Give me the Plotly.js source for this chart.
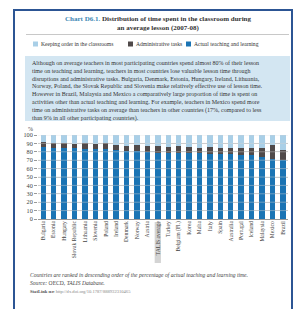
<!DOCTYPE html>
<html>
<head>
<meta charset="utf-8">
<script src="https://cdn.plot.ly/plotly-3.0.1.min.js"></script>
<style>
html,body{margin:0;padding:0;background:#fff;}
#chart{width:300px;height:309px;}
</style>
</head>
<body>
<div id="chart"></div>
<script>
// ---- data ----
var countries = ["Bulgaria","Estonia","Hungary","Slovak Republic","Lithuania","Slovenia","Poland","Ireland","Denmark","Norway","Austria","TALIS average","Turkey","Belgium (Fl.)","Korea","Malta","Italy","Spain","Australia","Portugal","Iceland","Malaysia","Mexico","Brazil"];
var actualTeaching = [86,85,84,84,83,83,83,82,81,81,80,79,79,79,78,78,77,77,77,76,76,74,71,70];
var adminTasks     = [6,5,6,5,7,6,7,6,6,7,7,8,7,8,8,7,9,8,7,8,8,10,17,12];
var keepingOrder   = [8,10,10,11,10,11,10,12,13,12,13,13,14,13,14,15,14,15,16,16,16,16,12,18];
var yTicks = [0,10,20,30,40,50,60,70,80,90,100];

var seriesNames = ["Actual teaching and learning","Administrative tasks","Keeping order in the classrooms"];
var seriesColors = ['#1b74b4','#504a4a','#a9cfe7'];

// ---- geometry helpers (pixel -> paper) ----
var L = 38, R = 288, T = 135, B = 219;
function px(x){ return (x - L) / (R - L); }
function py(y){ return (B - y) / (B - T); }

var serif = "Liberation Serif, DejaVu Serif, serif";

var traces = [
  {type:'bar', name:seriesNames[0], x:countries, y:actualTeaching, marker:{color:seriesColors[0]}, hoverinfo:'skip'},
  {type:'bar', name:seriesNames[1], x:countries, y:adminTasks, marker:{color:seriesColors[1]}, hoverinfo:'skip'},
  {type:'bar', name:seriesNames[2], x:countries, y:keepingOrder, marker:{color:seriesColors[2]}, hoverinfo:'skip'}
];

var shapes = [
  // frame
  {type:'rect', xref:'paper', yref:'paper', x0:px(14), x1:px(292), y0:py(320), y1:py(10), line:{color:'#2c5594', width:2}, fillcolor:'rgba(0,0,0,0)', layer:'below'},
  // title separator
  {type:'line', xref:'paper', yref:'paper', x0:px(26), x1:px(289), y0:py(34.5), y1:py(34.5), line:{color:'#c8c8c8', width:1}},
  // text box
  {type:'rect', xref:'paper', yref:'paper', x0:px(25), x1:px(290), y0:py(121), y1:py(56), line:{width:0}, fillcolor:'#d3e6f2', layer:'below'},
  // TALIS average label background
  {type:'rect', xref:'x', yref:'paper', x0:10.7, x1:11.3, y0:py(263), y1:py(222), line:{width:0}, fillcolor:'#d4d4d4', layer:'below'}
];
// faint gridlines drawn over bars
yTicks.forEach(function(v){
  if (v > 0) shapes.push({type:'line', xref:'paper', yref:'y', x0:0, x1:1, y0:v, y1:v, line:{color:'rgba(210,210,210,0.45)', width:1}, layer:'above'});
});

var paragraph = [
  "Although on average teachers in most participating countries spend almost 80% of their lesson",
  "time on teaching and learning, teachers in most countries lose valuable lesson time through",
  "disruptions and administrative tasks. Bulgaria, Denmark, Estonia, Hungary, Ireland, Lithuania,",
  "Norway, Poland, the Slovak Republic and Slovenia make relatively effective use of lesson time.",
  "However in Brazil, Malaysia and Mexico a comparatively large proportion of time is spent on",
  "activities other than actual teaching and learning. For example, teachers in Mexico spend more",
  "time on administrative tasks on average than teachers in other countries (17%, compared to less",
  "than 9% in all other participating countries)."
].join("<br>");

var annotations = [
  {xref:'paper', yref:'paper', x:px(158), y:py(24), xanchor:'center', yanchor:'middle', showarrow:false, align:'center',
   text:"<b><span style='color:#3b86b3'>Chart D6.1.</span> Distribution of time spent in the classroom during<br>an average lesson (2007-08)</b>",
   font:{family:serif, size:7, color:'#333'}},
  {xref:'paper', yref:'paper', x:px(30), y:py(57.5), xanchor:'left', yanchor:'top', showarrow:false, align:'left',
   text:paragraph, font:{family:serif, size:6, color:'#333'}},
  {xref:'paper', yref:'paper', x:px(26), y:py(129), xanchor:'left', yanchor:'middle', showarrow:false,
   text:"%", font:{family:serif, size:6, color:'#444'}},
  {xref:'paper', yref:'paper', x:px(28), y:py(275), xanchor:'left', yanchor:'middle', showarrow:false, align:'left',
   text:"<i>Countries are ranked in descending order of the percentage of actual teaching and learning time.</i>",
   font:{family:serif, size:5.6, color:'#444'}},
  {xref:'paper', yref:'paper', x:px(28), y:py(283), xanchor:'left', yanchor:'middle', showarrow:false, align:'left',
   text:"<i>Source:</i> OECD, <i>TALIS Database.</i>",
   font:{family:serif, size:5.6, color:'#444'}},
  {xref:'paper', yref:'paper', x:px(28), y:py(291), xanchor:'left', yanchor:'middle', showarrow:false, align:'left',
   text:"<b>StatLink</b> <b>ɪᴇᴘ</b> <span style='color:#888'>http://dx.doi.org/10.1787/888932310465</span>",
   font:{family:serif, size:4.6, color:'#555'}}
];

// manual legend (small square swatches), order: keeping order, admin, actual
var legendOrder = [2,1,0];
var legendX = [33, 128, 186];
legendOrder.forEach(function(si, k){
  var x0 = legendX[k];
  shapes.push({type:'rect', xref:'paper', yref:'paper', x0:px(x0), x1:px(x0+5), y0:py(46.5), y1:py(41.5), line:{width:0}, fillcolor:seriesColors[si]});
  annotations.push({xref:'paper', yref:'paper', x:px(x0+5.5), y:py(44), xanchor:'left', yanchor:'middle', showarrow:false,
    text:seriesNames[si], font:{family:serif, size:5.6, color:'#333'}});
});

var layout = {
  width:300, height:309, autosize:false,
  margin:{l:L, r:300-R, t:T, b:309-B, pad:0},
  paper_bgcolor:'#ffffff', plot_bgcolor:'#ffffff',
  barmode:'stack', bargap:0.48,
  showlegend:false,
  xaxis:{type:'category', tickangle:-90, tickfont:{family:serif, size:5.6, color:'#444'}, showgrid:false, ticks:'', showline:false, zeroline:false, automargin:false},
  yaxis:{range:[0,100], tickvals:yTicks, ticktext:yTicks.map(String), ticks:'outside', ticklen:3, tickcolor:'#999', showgrid:true, gridcolor:'#c9c9c9', gridwidth:1,
         zeroline:true, zerolinecolor:'#999', zerolinewidth:1, showline:false, tickfont:{family:serif, size:6.2, color:'#444'}, automargin:false},
  shapes:shapes,
  annotations:annotations
};

Plotly.newPlot('chart', traces, layout, {displayModeBar:false, staticPlot:true});
</script>
</body>
</html>
